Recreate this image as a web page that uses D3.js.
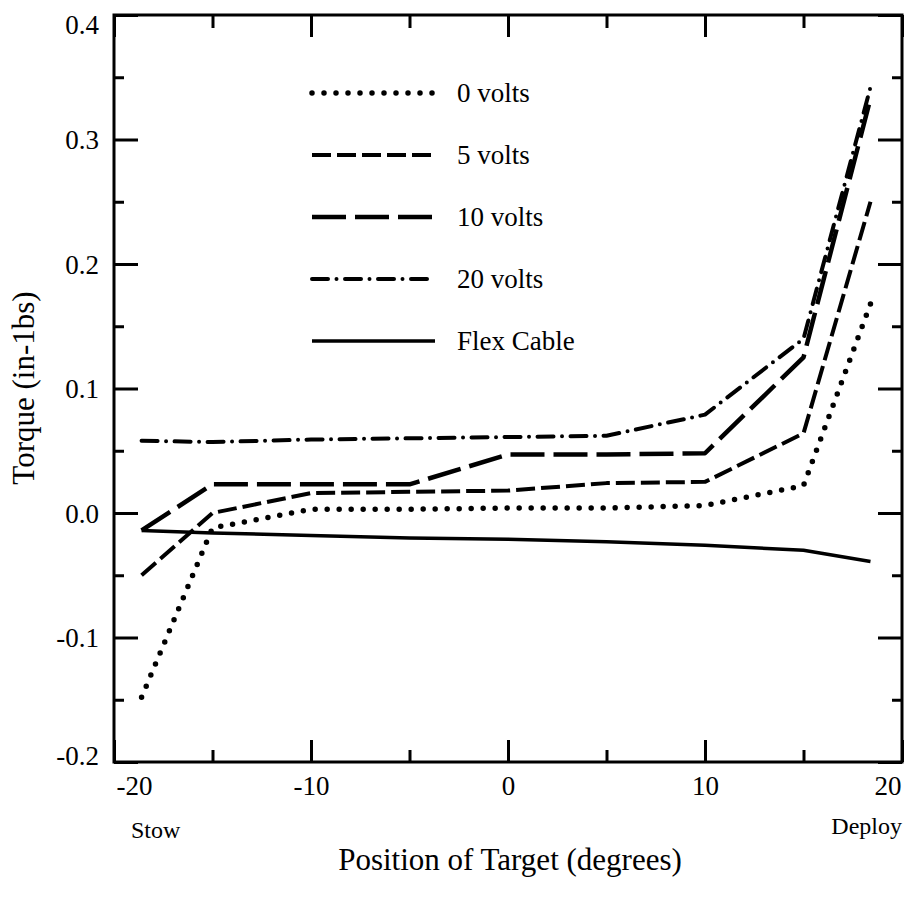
<!DOCTYPE html>
<html>
<head>
<meta charset="utf-8">
<script src="https://cdn.jsdelivr.net/npm/d3@7"></script>
<style>
  body { margin: 0; background: #fff; }
  text { font-family: "Liberation Serif", "Times New Roman", serif; fill: #000; }
</style>
</head>
<body>
<script>
// positions (degrees) shared by every curve
var positions = [-18.6, -15, -10, -5, 0, 5, 10, 15, 18.4];

// torque (in-lbs)
var volts0  = [-0.148, -0.012, 0.003, 0.003, 0.004, 0.004, 0.006, 0.022, 0.168];
var volts5  = [-0.050, 0.000, 0.016, 0.017, 0.018, 0.024, 0.025, 0.064, 0.250];
var volts10 = [-0.014, 0.023, 0.023, 0.023, 0.047, 0.047, 0.048, 0.125, 0.333];
var volts20 = [0.058, 0.057, 0.059, 0.060, 0.061, 0.062, 0.079, 0.140, 0.342];
var flex    = [-0.014, -0.016, -0.018, -0.020, -0.021, -0.023, -0.026, -0.030, -0.039];

var seriesNames = ["0 volts", "5 volts", "10 volts", "20 volts", "Flex Cable"];
var xMajor = [-20, -10, 0, 10, 20];
var xMinor = [-15, -5, 5, 15];
var yMajor = [-0.2, -0.1, 0.0, 0.1, 0.2, 0.3, 0.4];
var yMinor = [-0.15, -0.05, 0.05, 0.15, 0.25, 0.35];

var W = 906, H = 897;
var plotLeft = 114, plotRight = 902, plotTop = 15, plotBottom = 762;

var styles = [
    {w: 5.5, dash: "0,12",         cap: "round"},
    {w: 4,   dash: "19,6",         cap: "butt"},
    {w: 4.5, dash: "34,9",         cap: "butt"},
    {w: 4,   dash: "16,8.5,0,8.5", cap: "round"},
    {w: 3.5, dash: null,           cap: "butt"}
];

var allSeries = [volts0, volts5, volts10, volts20, flex];

var svg = d3.select("body").append("svg")
    .attr("width", W)
    .attr("height", H);

var x = d3.scaleLinear().domain([-20, 20]).range([plotLeft, plotRight]);
var y = d3.scaleLinear().domain([-0.2, 0.4]).range([plotBottom, plotTop]);

// axes, ticks pointing inward
var bottomAxis = svg.append("g")
    .attr("transform", "translate(0," + plotBottom + ")")
    .call(d3.axisBottom(x).tickValues(xMajor).tickSize(-22).tickPadding(14)
        .tickFormat(function(d){ return d; }));
svg.append("g")
    .attr("transform", "translate(0," + plotBottom + ")")
    .call(d3.axisBottom(x).tickValues(xMinor).tickSize(-12).tickFormat(""));
svg.append("g")
    .attr("transform", "translate(0," + plotTop + ")")
    .call(d3.axisTop(x).tickValues(xMajor).tickSize(-22).tickFormat(""));
svg.append("g")
    .attr("transform", "translate(0," + plotTop + ")")
    .call(d3.axisTop(x).tickValues(xMinor).tickSize(-13).tickFormat(""));

var leftAxis = svg.append("g")
    .attr("transform", "translate(" + plotLeft + ",0)")
    .call(d3.axisLeft(y).tickValues(yMajor).tickSize(-24)
        .tickFormat(d3.format(".1f")));
svg.append("g")
    .attr("transform", "translate(" + plotLeft + ",0)")
    .call(d3.axisLeft(y).tickValues(yMinor).tickSize(-10).tickFormat(""));
svg.append("g")
    .attr("transform", "translate(" + plotRight + ",0)")
    .call(d3.axisRight(y).tickValues(yMajor).tickSize(-24).tickFormat(""));
svg.append("g")
    .attr("transform", "translate(" + plotRight + ",0)")
    .call(d3.axisRight(y).tickValues(yMinor).tickSize(-10).tickFormat(""));

svg.selectAll(".domain").remove();
svg.selectAll(".tick line").attr("stroke", "#000").attr("stroke-width", 3);

bottomAxis.selectAll("text")
    .attr("font-size", 27)
    .attr("text-anchor", function(d){ return d == -20 ? "start" : (d == 20 ? "end" : "middle"); })
    .attr("dx", function(d){ return d == -20 ? 2 : (d == 20 ? -1 : 0); })
    .text(function(d){ return d < 0 ? "-" + Math.abs(d) : d; });

leftAxis.selectAll("text")
    .attr("font-size", 27)
    .attr("text-anchor", "end")
    .attr("x", -15)
    .attr("dy", function(d){ return d == 0.4 ? "0.68em" : (d == -0.2 ? "0.1em" : "0.34em"); })
    .text(function(d){ return d < 0 ? "-" + d3.format(".1f")(Math.abs(d)) : d3.format(".1f")(d); });

// frame
svg.append("rect")
    .attr("x", plotLeft).attr("y", plotTop)
    .attr("width", plotRight - plotLeft).attr("height", plotBottom - plotTop)
    .attr("fill", "none")
    .attr("stroke", "#000")
    .attr("stroke-width", 3);

// curves
var line = d3.line()
    .x(function(d){ return x(d[0]); })
    .y(function(d){ return y(d[1]); });

allSeries.forEach(function(vals, i){
    var pts = positions.map(function(p, j){ return [p, vals[j]]; });
    var s = styles[i];
    svg.append("path")
        .datum(pts)
        .attr("d", line)
        .attr("fill", "none")
        .attr("stroke", "#000")
        .attr("stroke-width", s.w)
        .attr("stroke-linecap", s.cap)
        .attr("stroke-linejoin", "round")
        .attr("stroke-dasharray", s.dash);
});

// legend
var legendY = [93, 155, 217, 279, 341];
seriesNames.forEach(function(name, i){
    var s = styles[i];
    svg.append("line")
        .attr("x1", 312).attr("x2", 435)
        .attr("y1", legendY[i]).attr("y2", legendY[i])
        .attr("stroke", "#000")
        .attr("stroke-width", s.w)
        .attr("stroke-linecap", s.cap)
        .attr("stroke-dasharray", s.dash);
    svg.append("text")
        .attr("x", 457)
        .attr("y", legendY[i] + 9)
        .attr("font-size", 27)
        .text(name);
});

// titles
svg.append("text")
    .attr("x", 510).attr("y", 870)
    .attr("text-anchor", "middle")
    .attr("font-size", 31)
    .text("Position of Target (degrees)");

svg.append("text")
    .attr("transform", "translate(34,388) rotate(-90)")
    .attr("text-anchor", "middle")
    .attr("font-size", 31)
    .text("Torque (in-1bs)");

svg.append("text")
    .attr("x", 131).attr("y", 838)
    .attr("font-size", 24)
    .text("Stow");

svg.append("text")
    .attr("x", 902).attr("y", 834)
    .attr("text-anchor", "end")
    .attr("font-size", 24)
    .text("Deploy");
</script>
</body>
</html>
